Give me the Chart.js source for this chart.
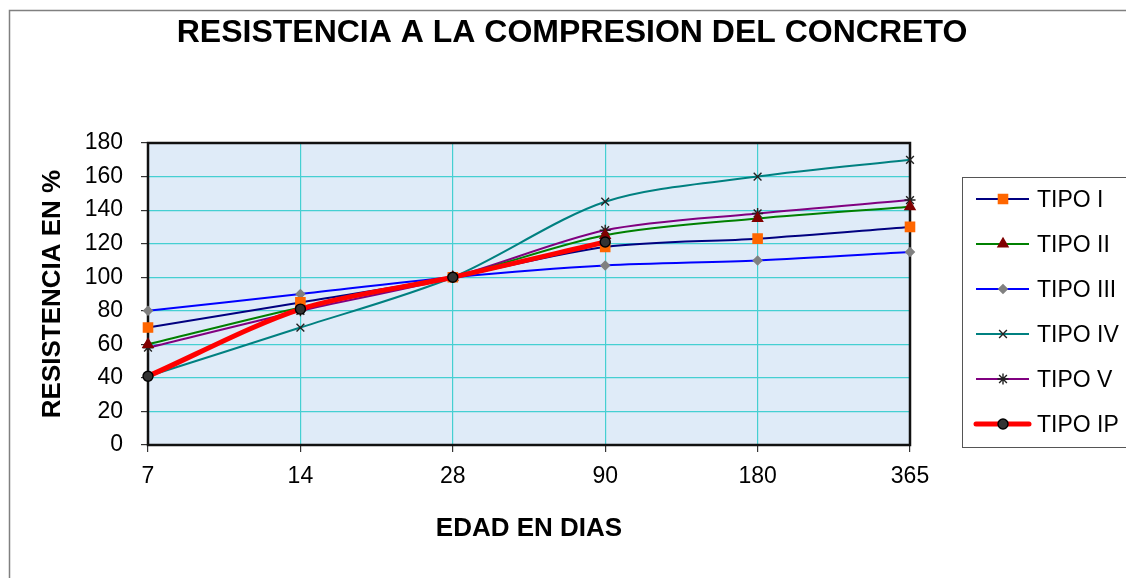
<!DOCTYPE html>
<html lang="es">
<head>
  <meta charset="UTF-8">
  <title>Resistencia a la compresion del concreto</title>
  <script src="https://cdn.jsdelivr.net/npm/chart.js"></script>
  <style>
    body {
      margin: 0;
      background: #fff;
    }
    canvas {
      display: block;
    }
  </style>
</head>
<body>
  <canvas id="grafico" width="1126" height="578"></canvas>

  <script>
    // edades de ensayo (dias)
    const edades = ['7', '14', '28', '90', '180', '365'];
    const ticksY = [0, 20, 40, 60, 80, 100, 120, 140, 160, 180];

    // resistencia en % respecto a los 28 dias
    const tipoI   = [70, 85, 100, 118, 123, 130];
    const tipoII  = [60, 82, 100, 125, 135, 142];
    const tipoIII = [80, 90, 100, 107, 110, 115];
    const tipoIV  = [41, 70, 100, 145, 160, 170];
    const tipoV   = [58, 80, 100, 128, 138, 146];
    const tipoIP  = [41, 81, 100, 121, null, null];

    const fuente = 'Arial, "Liberation Sans", sans-serif';

    function serie(label, data, color, estilo, fondo, borde, radio, ancho, orden) {
      return {
        label: label,
        data: data,
        borderColor: color,
        borderWidth: ancho,
        pointStyle: estilo,
        pointBackgroundColor: fondo,
        pointBorderColor: borde,
        pointBorderWidth: 1.4,
        pointRadius: radio,
        tension: 0.3,
        clip: false,
        order: orden
      };
    }

    // fondo del area de trazado y marco
    const marco = {
      id: 'marco',
      beforeDraw(chart) {
        const ctx = chart.ctx;
        const a = chart.chartArea;
        ctx.save();
        ctx.fillStyle = '#fff';
        ctx.fillRect(0, 0, chart.width, chart.height);
        ctx.strokeStyle = '#808080';
        ctx.lineWidth = 1.5;
        ctx.strokeRect(9.5, 10.5, chart.width + 20, chart.height + 20);
        ctx.fillStyle = '#dfebf8';
        ctx.fillRect(a.left, a.top, a.right - a.left, a.bottom - a.top);
        ctx.restore();
      },
      beforeDatasetsDraw(chart) {
        const ctx = chart.ctx;
        const a = chart.chartArea;
        ctx.save();
        ctx.strokeStyle = '#111';
        ctx.lineWidth = 2.5;
        ctx.strokeRect(a.left, a.top, a.right - a.left, a.bottom - a.top);
        ctx.restore();
      },
      afterDraw(chart) {
        const ctx = chart.ctx;
        ctx.save();
        // titulo
        ctx.fillStyle = '#000';
        ctx.font = 'bold 32px ' + fuente;
        ctx.textAlign = 'center';
        ctx.textBaseline = 'alphabetic';
        ctx.fillText('RESISTENCIA A LA COMPRESION DEL CONCRETO', 572, 42);

        // leyenda
        ctx.strokeStyle = '#555';
        ctx.lineWidth = 1;
        ctx.strokeRect(962.5, 177.5, 200, 270);
        chart.data.datasets.forEach((ds, i) => {
          const base = 207 + i * 45;
          const y = base - 8;
          ctx.strokeStyle = ds.borderColor;
          ctx.lineWidth = ds.borderWidth;
          ctx.lineCap = ds.borderWidth > 3 ? 'round' : 'butt';
          ctx.beginPath();
          ctx.moveTo(976, y);
          ctx.lineTo(1029, y);
          ctx.stroke();
          ctx.fillStyle = ds.pointBackgroundColor;
          ctx.strokeStyle = ds.pointBorderColor;
          ctx.lineWidth = ds.pointBorderWidth;
          Chart.helpers.drawPoint(ctx, {
            pointStyle: ds.pointStyle,
            radius: ds.pointRadius,
            rotation: 0,
            borderWidth: ds.pointBorderWidth
          }, 1003, y);
          ctx.fillStyle = '#000';
          ctx.font = '23px ' + fuente;
          ctx.textAlign = 'left';
          ctx.fillText(ds.label, 1037, base);
        });
        ctx.restore();
      }
    };

    const ctx = document.getElementById('grafico').getContext('2d');
    new Chart(ctx, {
      type: 'line',
      data: {
        labels: edades,
        datasets: [
          serie('TIPO I', tipoI, '#000080', 'rect', '#ff6600', '#ff6600', 6.5, 2, 1),
          serie('TIPO II', tipoII, '#008000', 'triangle', '#800000', '#800000', 5.8, 2, 1),
          serie('TIPO III', tipoIII, '#0000ff', 'rectRot', '#808080', '#808080', 4.3, 2, 1),
          serie('TIPO IV', tipoIV, '#008080', 'crossRot', '#fff', '#222', 5.5, 2, 1),
          serie('TIPO V', tipoV, '#800080', 'star', '#fff', '#222', 5.5, 2, 1),
          serie('TIPO IP', tipoIP, '#ff0000', 'circle', '#333', '#000', 5, 5, 0)
        ]
      },
      options: {
        responsive: false,
        animation: false,
        layout: {
          padding: { top: 143, right: 216, left: 0, bottom: 0 }
        },
        plugins: {
          legend: { display: false },
          title: { display: false },
          tooltip: { enabled: false }
        },
        scales: {
          x: {
            offset: false,
            border: { display: false },
            grid: {
              color: '#45cfd2',
              lineWidth: 1.2,
              tickColor: '#333',
              tickLength: 7
            },
            ticks: {
              color: '#000',
              padding: 11,
              font: { family: fuente, size: 23 }
            },
            title: {
              display: true,
              text: 'EDAD EN DIAS',
              color: '#000',
              font: { family: fuente, size: 26, weight: 'bold' },
              padding: { top: 0, bottom: 34 }
            },
            afterFit(scale) {
              scale.height = 133;
            }
          },
          y: {
            min: 0,
            max: 180,
            border: { display: false },
            grid: {
              color: '#45cfd2',
              lineWidth: 1.2,
              tickColor: '#333',
              tickLength: 7
            },
            ticks: {
              color: '#000',
              padding: 18,
              font: { family: fuente, size: 23 }
            },
            afterBuildTicks(scale) {
              scale.ticks = ticksY.map(v => ({ value: v }));
            },
            title: {
              display: true,
              text: 'RESISTENCIA EN %',
              color: '#000',
              font: { family: fuente, size: 26, weight: 'bold' },
              padding: { top: 37, bottom: 0 }
            },
            afterFit(scale) {
              scale.width = 148;
            }
          }
        }
      },
      plugins: [marco]
    });
  </script>
</body>
</html>
